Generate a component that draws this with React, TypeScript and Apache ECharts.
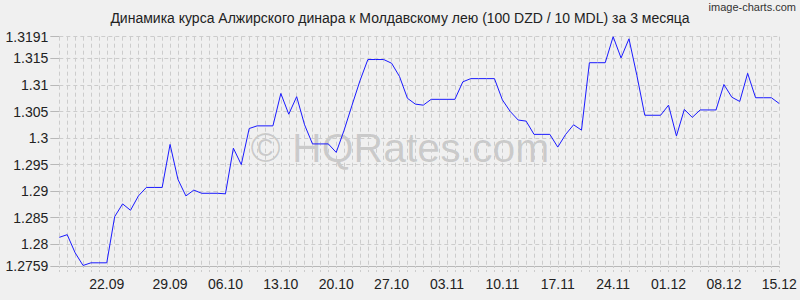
import React, { useEffect, useRef } from 'react';
import * as echarts from 'echarts';

const TITLE = 'Динамика курса Алжирского динара к Молдавскому лею (100 DZD / 10 MDL) за 3 месяца';
const START_DATE = [2025, 8, 15]; // 15.09.2025 (month is 0-based)
const DAY_COUNT = 92;

const rates: number[] = [
  1.2813, 1.2818, 1.2784, 1.2760, 1.2765, 1.2765, 1.2765,
  1.2852, 1.2876, 1.2864, 1.2891, 1.2907, 1.2907, 1.2907,
  1.2988, 1.2922, 1.2891, 1.2902, 1.2896, 1.2896, 1.2896,
  1.2895, 1.2981, 1.2950, 1.3018, 1.3023, 1.3023, 1.3023,
  1.3084, 1.3045, 1.3078, 1.3025, 1.2989, 1.2989, 1.2989,
  1.2973, 1.3015, 1.3062, 1.3108, 1.3148, 1.3148, 1.3148,
  1.3141, 1.3116, 1.3075, 1.3064, 1.3062, 1.3073, 1.3073,
  1.3073, 1.3073, 1.3106, 1.3112, 1.3112, 1.3112, 1.3112,
  1.3072, 1.3050, 1.3034, 1.3032, 1.3007, 1.3007, 1.3007,
  1.2983, 1.3007, 1.3025, 1.3015, 1.3142, 1.3142, 1.3142,
  1.3191, 1.3151, 1.3187, 1.3118, 1.3043, 1.3043, 1.3043,
  1.3062, 1.3004, 1.3054, 1.3039, 1.3053, 1.3053, 1.3053,
  1.3101, 1.3077, 1.3069, 1.3122, 1.3076, 1.3076, 1.3076,
  1.3065,
];

const yTicks: number[] = [1.2759, 1.28, 1.285, 1.29, 1.295, 1.3, 1.305, 1.31, 1.315, 1.3191];
const Y_MIN = 1.2759;
const Y_MAX = 1.3191;

const pad = (n: number) => (n < 10 ? '0' + n : '' + n);
const dates: string[] = [];
for (let i = 0; i < DAY_COUNT; i++) {
  const d = new Date(START_DATE[0], START_DATE[1], START_DATE[2] + i);
  dates.push(pad(d.getDate()) + '.' + pad(d.getMonth() + 1));
}

const FONT = '"Liberation Sans", Arial, sans-serif';
const GRID_COLOR = '#cccccc';

export default function App() {
  const ref = useRef<HTMLDivElement>(null);
  useEffect(() => {
    if (!ref.current) return;
    const chart = echarts.init(ref.current, null, { renderer: 'svg' });
    chart.setOption({
      animation: false,
      backgroundColor: '#f0f0f0',
      title: {
        text: TITLE,
        left: 'center',
        top: 11,
        padding: 0,
        textStyle: { fontFamily: FONT, fontSize: 14, fontWeight: 'normal', color: '#222' },
      },
      graphic: [
        {
          type: 'text',
          right: 4,
          top: 1,
          style: { text: 'image-charts.com', font: '11px ' + FONT, fill: '#333' },
        },
        {
          type: 'text',
          x: 400,
          y: 148,
          z: -10,
          style: {
            text: '© HQRates.com',
            font: '41px ' + FONT,
            fill: 'rgba(0,0,0,0.16)',
            textAlign: 'center',
            textVerticalAlign: 'middle',
          },
        },
      ],
      grid: { left: 59.3, right: 20.7, top: 36.7, bottom: 34, containLabel: false },
      xAxis: {
        type: 'category',
        data: dates,
        boundaryGap: false,
        axisLine: { show: true, lineStyle: { color: '#b8b8b8', width: 1 } },
        axisTick: {
          show: true,
          interval: 0,
          length: 7,
          lineStyle: { color: GRID_COLOR, type: [2, 2] },
        },
        splitLine: {
          show: true,
          interval: 0,
          lineStyle: { color: GRID_COLOR, type: [4, 3], width: 1 },
        },
        axisLabel: {
          interval: (index: number) => index > 0 && index % 7 === 0,
          margin: 11,
          fontFamily: FONT,
          fontSize: 14,
          color: '#222',
          formatter: (value: string, index: number) => (index === 7 ? '{s|' + value + '}' : value),
          rich: {
            s: { fontFamily: FONT, fontSize: 14, color: '#222', padding: [0, 16, 0, 0] },
          },
        },
      },
      yAxis: {
        type: 'value',
        min: Y_MIN,
        max: Y_MAX,
        axisLine: { show: false },
        axisTick: {
          show: true,
          length: 9,
          customValues: yTicks,
          lineStyle: { color: '#b8b8b8' },
        },
        splitLine: {
          show: true,
          lineStyle: { color: GRID_COLOR, type: [4, 3], width: 1 },
        },
        axisLabel: {
          customValues: yTicks,
          margin: 11,
          fontFamily: FONT,
          fontSize: 14,
          color: '#222',
          formatter: (v: number) => String(parseFloat(v.toFixed(4))),
        },
      },
      series: [
        {
          type: 'line',
          data: rates,
          showSymbol: false,
          z: 5,
          lineStyle: { color: '#1a1aff', width: 1 },
          itemStyle: { color: '#1a1aff' },
        },
      ],
    });
    return () => chart.dispose();
  }, []);
  return <div ref={ref} style={{ position: 'fixed', left: 0, top: 0, width: 800, height: 300 }} />;
}
